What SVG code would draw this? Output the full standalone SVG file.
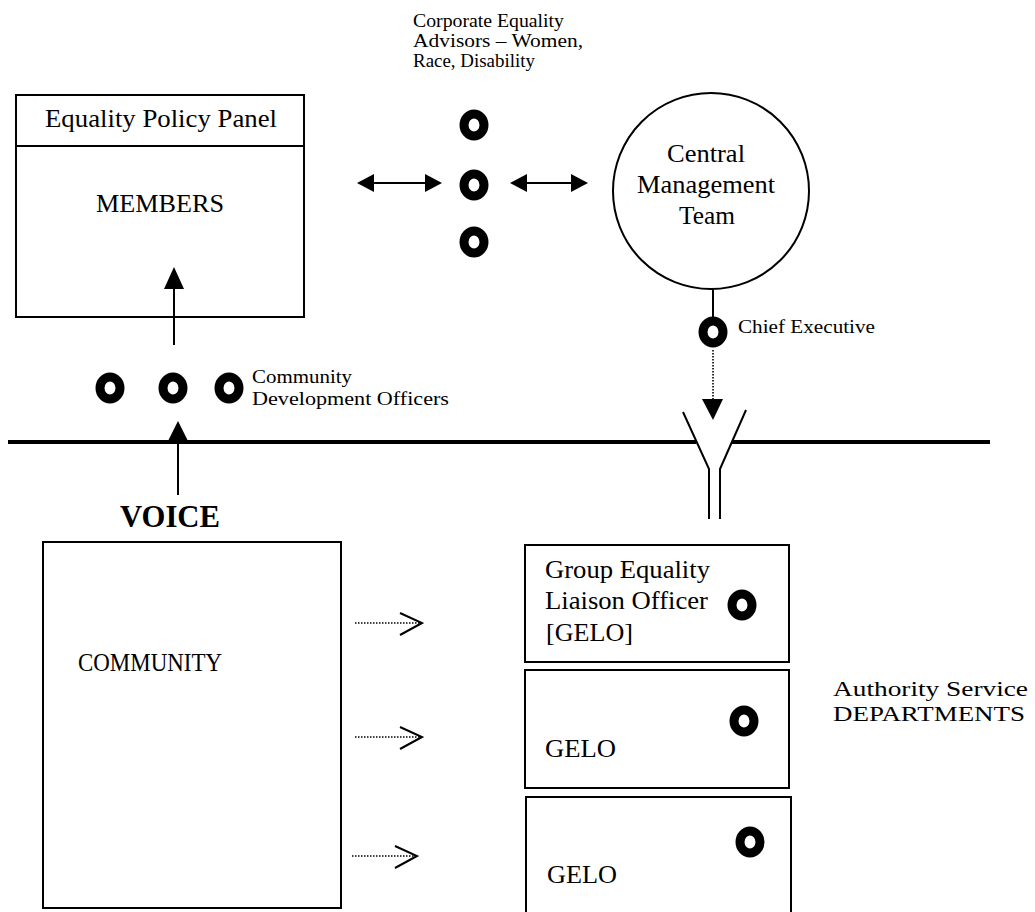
<svg xmlns="http://www.w3.org/2000/svg" width="1035" height="912" viewBox="0 0 1035 912">
  <defs>
    <style>
      text { font-family: "Times New Roman", "Liberation Serif", Tinos, serif; fill: #000; }
      .big { font-size: 25px; }
      .mid { font-size: 22px; }
      .small { font-size: 19px; }
      .bold { font-size: 31px; font-weight: bold; }
      .box { fill: #fff; stroke: #000; stroke-width: 2; }
      .ring { fill: none; stroke: #000; stroke-width: 9; }
      .line { fill: none; stroke: #000; stroke-width: 2; }
      .thick { fill: none; stroke: #000; stroke-width: 4; }
      .dot { fill: none; stroke: #000; stroke-width: 1.6; stroke-dasharray: 1.5 1.5; }
      .head { fill: #000; stroke: none; }
    </style>
  </defs>

  <!-- Boundary between members/management and the community/departments -->
  <g id="boundary">
    <line class="thick" x1="8" y1="442" x2="696" y2="442"/>
    <line class="thick" x1="732" y1="442" x2="990" y2="442"/>
  </g>

  <!-- Equality Policy Panel / Members -->
  <g id="panel">
    <rect class="box" x="16" y="95" width="288" height="222"/>
    <line class="line" x1="16" y1="146" x2="304" y2="146"/>
    <text class="big" x="45" y="127" textLength="232" lengthAdjust="spacingAndGlyphs">Equality Policy Panel</text>
    <text class="big" x="96" y="212" textLength="128" lengthAdjust="spacingAndGlyphs">MEMBERS</text>
  </g>

  <!-- Corporate Equality Advisors -->
  <g id="advisors">
    <text class="small" x="413" y="27" textLength="151" lengthAdjust="spacingAndGlyphs">Corporate Equality</text>
    <text class="small" x="413" y="47" textLength="170" lengthAdjust="spacingAndGlyphs">Advisors – Women,</text>
    <text class="small" x="413" y="67" textLength="122" lengthAdjust="spacingAndGlyphs">Race, Disability</text>
    <ellipse class="ring" cx="474" cy="125" rx="10" ry="11"/>
    <ellipse class="ring" cx="474" cy="185" rx="10" ry="11"/>
    <ellipse class="ring" cx="474" cy="242" rx="10" ry="11"/>
  </g>

  <!-- Central Management Team -->
  <g id="cmt">
    <circle cx="711" cy="191" r="98" fill="#fff" stroke="#000" stroke-width="2"/>
    <text class="big" x="667" y="162" textLength="78" lengthAdjust="spacingAndGlyphs">Central</text>
    <text class="big" x="637" y="193" textLength="138" lengthAdjust="spacingAndGlyphs">Management</text>
    <text class="big" x="679" y="224" textLength="56" lengthAdjust="spacingAndGlyphs">Team</text>
  </g>

  <!-- Chief Executive -->
  <g id="chief">
    <ellipse class="ring" cx="713" cy="332" rx="10" ry="11"/>
    <text class="small" x="738" y="333" textLength="137" lengthAdjust="spacingAndGlyphs">Chief Executive</text>
  </g>

  <!-- Community Development Officers -->
  <g id="cdo">
    <ellipse class="ring" cx="110" cy="388" rx="10" ry="11"/>
    <ellipse class="ring" cx="173" cy="388" rx="10" ry="11"/>
    <ellipse class="ring" cx="229" cy="388" rx="10" ry="11"/>
    <text class="small" x="252" y="383" textLength="100" lengthAdjust="spacingAndGlyphs">Community</text>
    <text class="small" x="252" y="405" textLength="197" lengthAdjust="spacingAndGlyphs">Development Officers</text>
  </g>

  <!-- Community -->
  <g id="community">
    <text class="bold" x="120" y="527" textLength="100" lengthAdjust="spacingAndGlyphs">VOICE</text>
    <rect class="box" x="43" y="542" width="298" height="366"/>
    <text class="big" x="78" y="671" textLength="144" lengthAdjust="spacingAndGlyphs">COMMUNITY</text>
  </g>

  <!-- Authority service departments -->
  <g id="dept1">
    <rect class="box" x="525" y="545" width="264" height="117"/>
    <text class="big" x="545" y="578" textLength="165" lengthAdjust="spacingAndGlyphs">Group Equality</text>
    <text class="big" x="545" y="609" textLength="163" lengthAdjust="spacingAndGlyphs">Liaison Officer</text>
    <text class="big" x="546" y="641" textLength="87" lengthAdjust="spacingAndGlyphs">[GELO]</text>
    <ellipse class="ring" cx="742" cy="605" rx="10" ry="11"/>
  </g>
  <g id="dept2">
    <rect class="box" x="525" y="670" width="264" height="118"/>
    <text class="big" x="545" y="757" textLength="71" lengthAdjust="spacingAndGlyphs">GELO</text>
    <ellipse class="ring" cx="744" cy="721" rx="10" ry="11"/>
  </g>
  <g id="dept3">
    <path class="line" d="M526,914 V797 H791 V914"/>
    <text class="big" x="547" y="883" textLength="70" lengthAdjust="spacingAndGlyphs">GELO</text>
    <ellipse class="ring" cx="750" cy="842" rx="10" ry="11"/>
  </g>
  <g id="departments-label">
    <text class="mid" x="833" y="696" textLength="195" lengthAdjust="spacingAndGlyphs">Authority Service</text>
    <text class="mid" x="833" y="721" textLength="192" lengthAdjust="spacingAndGlyphs">DEPARTMENTS</text>
  </g>

  <!-- Connectors -->
  <g id="connectors">
    <!-- CDOs up to Members -->
    <line class="line" x1="174" y1="345" x2="174" y2="287"/>
    <polygon class="head" points="174,267 164,289 184,289"/>
    <!-- Voice up to CDOs -->
    <line class="line" x1="178" y1="495" x2="178" y2="438"/>
    <polygon class="head" points="178,421 168,441 188,441"/>
    <!-- Members <-> Advisors -->
    <line class="line" x1="370" y1="183" x2="430" y2="183"/>
    <polygon class="head" points="357,183 374,174 374,192"/>
    <polygon class="head" points="442,183 425,174 425,192"/>
    <!-- Advisors <-> Central Management Team -->
    <line class="line" x1="522" y1="183" x2="576" y2="183"/>
    <polygon class="head" points="510,183 527,174 527,192"/>
    <polygon class="head" points="588,183 571,174 571,192"/>
    <!-- CMT to Chief Executive -->
    <line class="line" x1="713" y1="289" x2="713" y2="317"/>
    <!-- Chief Executive down to departments -->
    <line class="dot" x1="713" y1="350" x2="713" y2="401"/>
    <polygon class="head" points="702,399 723,399 713,420"/>
    <!-- Funnel through the boundary -->
    <path class="line" d="M683,412 L709,469 V519" stroke-width="2.5"/>
    <path class="line" d="M746,410 L720,469 V519" stroke-width="2.5"/>
    <!-- Community to departments -->
    <line class="dot" x1="355" y1="623" x2="420" y2="623"/>
    <polyline class="line" points="400,613 422,623 400,635" stroke-width="1.5"/>
    <line class="dot" x1="355" y1="737" x2="420" y2="737"/>
    <polyline class="line" points="400,727 422,737 400,749" stroke-width="1.5"/>
    <line class="dot" x1="352" y1="856" x2="415" y2="856"/>
    <polyline class="line" points="395,846 417,856 395,868" stroke-width="1.5"/>
  </g>
</svg>
